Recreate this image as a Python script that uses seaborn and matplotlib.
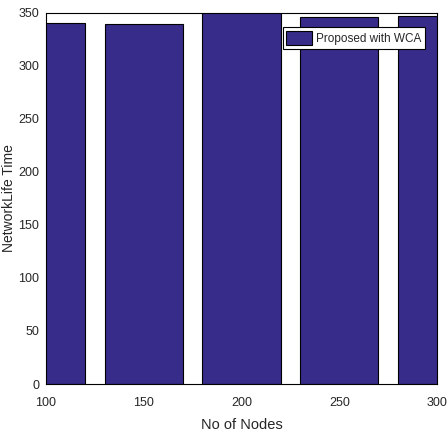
import matplotlib
matplotlib.use("Agg")
import matplotlib.pyplot as plt
import seaborn as sns
import pandas as pd

nodes = [100, 150, 200, 250, 300]
lifetime = [340, 339, 352, 345.5, 347]
series_label = "Proposed with WCA"

df = pd.DataFrame({"nodes": nodes, "lifetime": lifetime, "series": series_label})

sns.set_style("white")
plt.rcParams['font.family'] = ['Liberation Sans', 'DejaVu Sans']

fig = plt.figure(figsize=(4.48, 4.32), dpi=100)
ax = fig.add_axes([0.1027, 0.111, 0.8728, 0.86])

sns.barplot(data=df, x="nodes", y="lifetime", hue="series", native_scale=True,
            palette=["#372c89"], width=0.8, edgecolor="black", linewidth=0.8,
            saturation=1, ax=ax)

ax.set_xlim(100, 300)
ax.set_ylim(0, 350)
ax.set_xticks([100, 150, 200, 250, 300])
ax.set_yticks(range(0, 351, 50))
ax.tick_params(axis="x", labelsize=9, length=0, pad=9)
ax.tick_params(axis="y", labelsize=9, length=0, pad=5)
ax.set_xlabel("No of Nodes", fontsize=10.5, labelpad=7)
ax.set_ylabel("NetworkLife Time", fontsize=10)
ax.yaxis.set_label_coords(-0.078, 0.5)
for s in ax.spines.values():
    s.set_color("black")
    s.set_linewidth(0.8)

leg = ax.legend(loc="upper right", bbox_to_anchor=(0.969, 0.961), borderaxespad=0,
                fontsize=8.5, frameon=True, fancybox=False, edgecolor="black",
                framealpha=1, facecolor="white",
                handlelength=2.2, handleheight=1.5, borderpad=0.3, handletextpad=0.3)
leg.get_frame().set_linewidth(0.8)

fig.savefig("out.png", dpi=100)
